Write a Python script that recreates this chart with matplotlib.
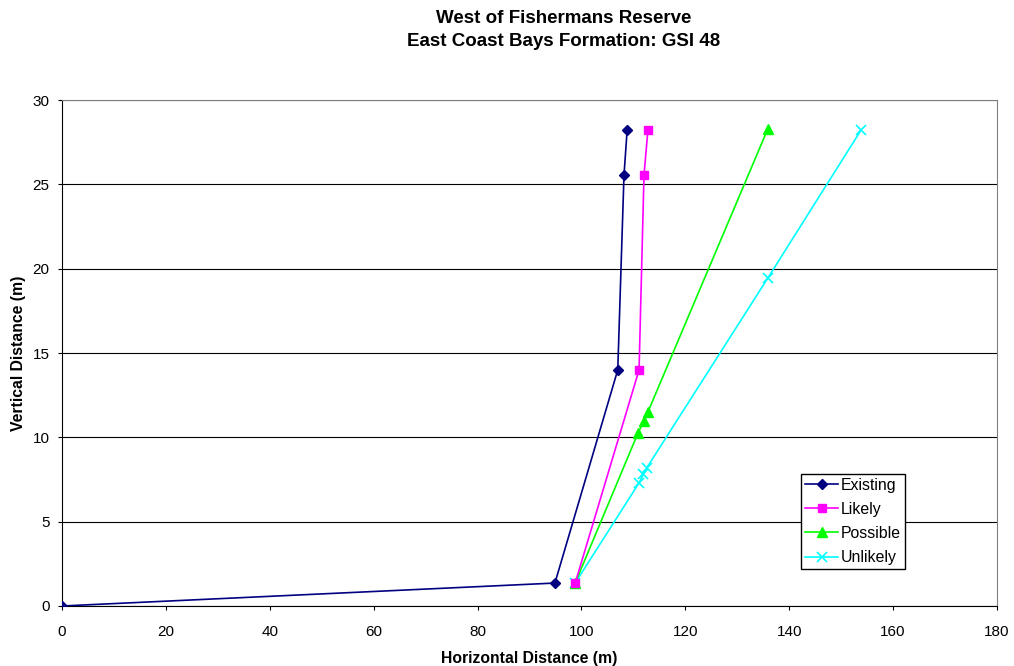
import matplotlib
matplotlib.use("Agg")
import matplotlib.pyplot as plt

plt.rcParams['font.family'] = ['Liberation Sans', 'DejaVu Sans']

existing_x = [0, 94.9, 107.0, 108.2, 108.8]
existing_y = [0, 1.36, 14.0, 25.55, 28.2]
likely_x = [98.8, 111.1, 112.05, 112.8]
likely_y = [1.36, 14.0, 25.55, 28.2]
possible_x = [98.8, 110.9, 112.05, 112.8, 135.9]
possible_y = [1.36, 10.26, 10.97, 11.5, 28.3]
unlikely_x = [98.8, 111.1, 111.9, 112.6, 135.9, 153.8]
unlikely_y = [1.36, 7.3, 7.8, 8.2, 19.45, 28.2]

title_lines = ["West of Fishermans Reserve", "East Coast Bays Formation: GSI 48"]
x_ticks = list(range(0, 181, 20))
y_ticks = list(range(0, 31, 5))

fig = plt.figure(figsize=(10.14, 6.66), dpi=100)
ax = fig.add_axes([0.0611, 0.0901, 0.9221, 0.7597])

ax.plot(existing_x, existing_y, color='#000080', marker='D', markersize=5, lw=1.2, label='Existing', zorder=5)
ax.plot(likely_x, likely_y, color='#FF00FF', marker='s', markersize=6, lw=1.2, label='Likely', zorder=4)
ax.plot(possible_x, possible_y, color='#00FF00', marker='^', markersize=7, lw=1.2, label='Possible', zorder=3)
ax.plot(unlikely_x, unlikely_y, color='#00FFFF', marker='x', markersize=7, mew=1.2, lw=1.2, label='Unlikely', zorder=2)

ax.set_xlim(0, 180)
ax.set_ylim(0, 30)
ax.set_xticks(x_ticks)
ax.set_yticks(y_ticks)
ax.tick_params(labelsize=11, direction='out', length=3, color='black')
ax.tick_params(axis='x', pad=11)
ax.tick_params(axis='y', pad=6)
ax.yaxis.grid(True, color='black', lw=0.8)
ax.set_axisbelow(True)
for s in ['top', 'right']:
    ax.spines[s].set_color('#808080')
for s in ['left', 'bottom']:
    ax.spines[s].set_color('black')

ax.set_xlabel('Horizontal Distance (m)', fontsize=11.3, fontweight='bold', labelpad=8)
ax.set_ylabel('Vertical Distance (m)', fontsize=11.3, fontweight='bold', labelpad=4.5)
fig.text(0.556, 0.9715, title_lines[0], ha='center', va='center', fontsize=13.5, fontweight='bold')
fig.text(0.556, 0.937, title_lines[1], ha='center', va='center', fontsize=13.5, fontweight='bold')

leg = ax.legend(loc='lower left', bbox_to_anchor=(0.7904, 0.0731), borderaxespad=0,
                fontsize=11.4, frameon=True, fancybox=False, edgecolor='black', framealpha=1,
                borderpad=0.25, handlelength=2.1, handletextpad=0.15, labelspacing=0.57)
leg.get_frame().set_linewidth(1.0)

fig.savefig('out.png', dpi=100)
